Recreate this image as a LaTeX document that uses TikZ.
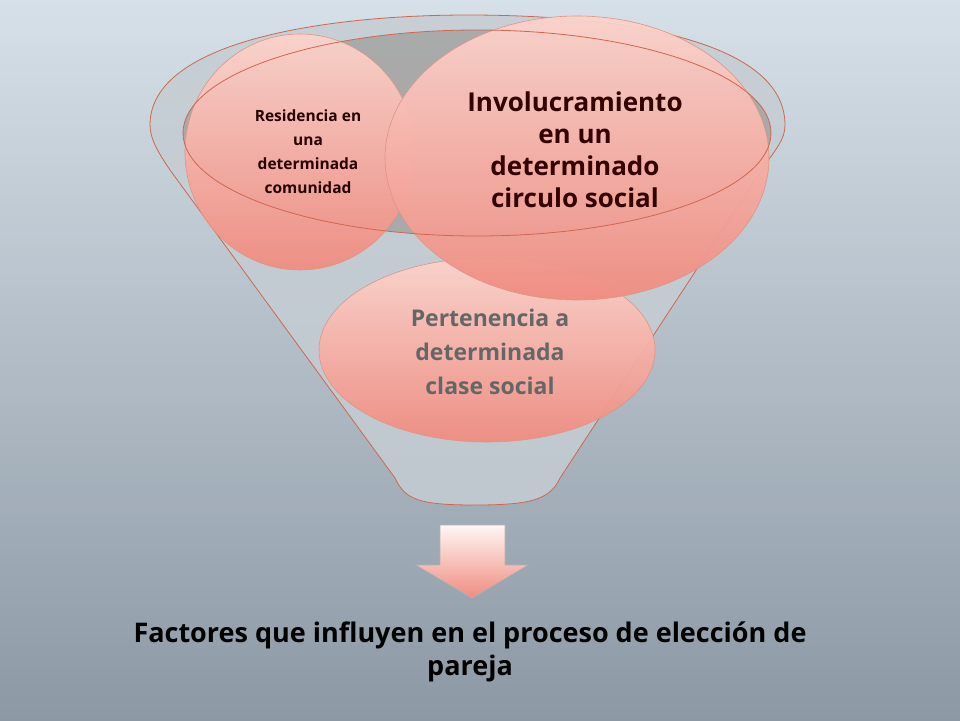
\documentclass[tikz,border=0pt]{standalone}
\usepackage{fontspec}
\setmainfont{Open Sans}
\usetikzlibrary{shapes.geometric}
\definecolor{edge}{HTML}{D0664F}
\definecolor{pinkA}{HTML}{FBD3CC}
\definecolor{pinkB}{HTML}{F08C80}
\definecolor{bgTop}{HTML}{D6E0E8}
\definecolor{bgBot}{HTML}{8C98A4}
\tikzset{
  circ/.style={draw=edge!70,line width=0.6pt,top color=pinkA,bottom color=pinkB,fill opacity=0.95},
  lbl/.style={align=center,font=\bfseries}
}
\begin{document}
\begin{tikzpicture}[x=1pt,y=-1pt]
\shade[top color=bgTop,bottom color=bgBot] (0,0) rectangle (960,720);
\useasboundingbox (0,0) rectangle (960,720);
% funnel
\path[draw=edge,line width=0.8pt,fill=bgTop!80!gray,fill opacity=0.85]
  (150,125) .. controls (150,40) and (330,15) .. (468,15)
  .. controls (620,15) and (785,40) .. (785,125)
  .. controls (785,140) and (775,150) .. (765,165)
  -- (560,478) .. controls (550,500) and (530,505) .. (475,505)
  .. controls (420,505) and (405,500) .. (395,478)
  -- (170,170) .. controls (160,155) and (150,140) .. (150,125) -- cycle;
\fill[gray!70,opacity=0.9] (477,133) ellipse[x radius=294,y radius=103];
% circles
\node[circ,ellipse,minimum width=336pt,minimum height=184pt] (p) at (487,350) {};
\node[lbl,text=black!60,font=\bfseries\fontsize{23}{34}\selectfont] at (490,352) {Pertenencia a\\determinada\\clase social};
\node[circ,ellipse,minimum width=230pt,minimum height=236pt] (r) at (300,152) {};
\node[circ,ellipse,minimum width=384pt,minimum height=284pt] (i) at (577,158) {};
\draw[edge,line width=0.8pt] (477,133) ellipse[x radius=294,y radius=103];
\node[lbl,text=black!85!red,font=\bfseries\fontsize{15.5}{24}\selectfont] at (308,152) {Residencia en\\una\\determinada\\comunidad};
\node[lbl,text=black!80!red,font=\bfseries\fontsize{26}{32}\selectfont] at (575,150) {Involucramiento\\en un\\determinado\\circulo social};
% arrow
\path[draw=gray!60,line width=0.6pt,top color=white!80!pinkA,bottom color=pinkB]
  (440,525) -- (505,525) -- (505,565) -- (528,565) -- (472,598) -- (416,565) -- (440,565) -- cycle;
\coordinate (ar) at (472,598);
\node[lbl,font=\bfseries\fontsize{27}{33}\selectfont] (t) at (470,652) {Factores que influyen en el proceso de elección de\\pareja};
\end{tikzpicture}
\end{document}
